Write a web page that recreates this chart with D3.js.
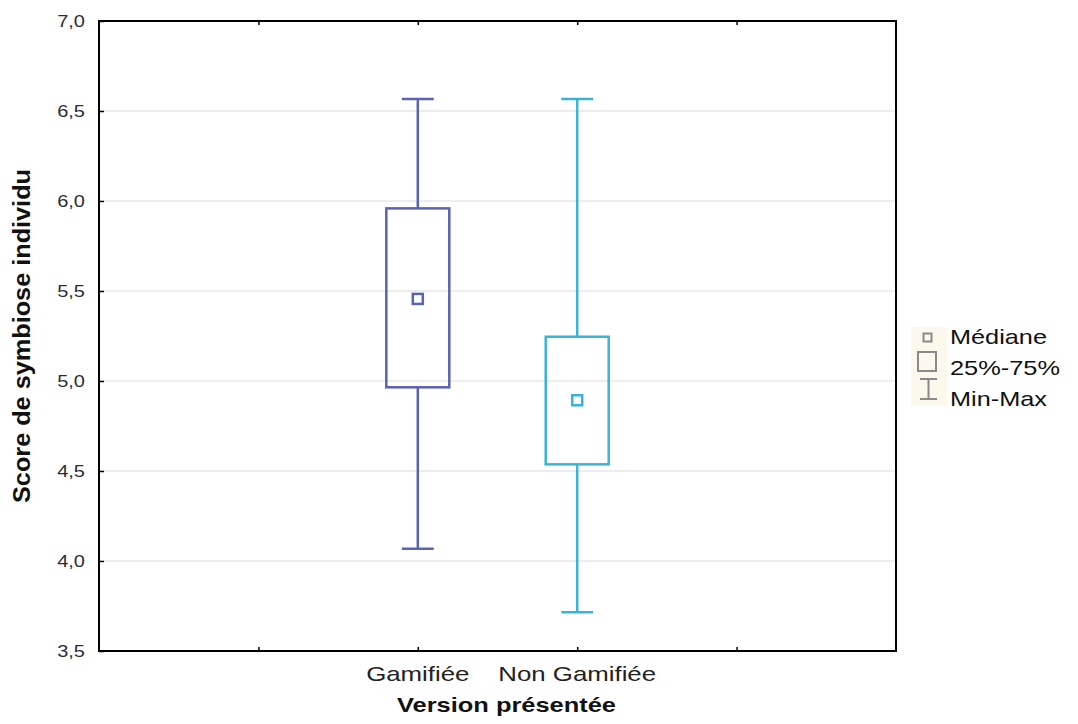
<!DOCTYPE html>
<html>
<head>
<meta charset="utf-8">
<script src="https://cdn.jsdelivr.net/npm/d3@7"></script>
<style>
html,body{margin:0;padding:0;background:#fff;}
svg{display:block;font-family:"Liberation Sans",Arial,sans-serif;}
</style>
</head>
<body>
<svg id="chart" width="1078" height="724"></svg>
<script>
// ---- data ----
const categories = ["Gamifiée", "Non Gamifiée"];
const mins    = [4.068, 3.715];
const q1s     = [4.965, 4.537];
const medians = [5.456, 4.893];
const q3s     = [5.959, 5.246];
const maxs    = [6.567, 6.567];
const yTicks  = [3.5, 4.0, 4.5, 5.0, 5.5, 6.0, 6.5, 7.0];
const legendLabels = ["Médiane", "25%-75%", "Min-Max"];
const colors = ["#5a63b0", "#3ab4d4"];

const svg = d3.select("#chart");
const L = 99, R = 896, T = 21, B = 651;

const x = d3.scaleLinear().domain([0, 5]).range([L, R]);
const y = d3.scaleLinear().domain([3.5, 7.0]).range([B, T]);
const catPos = i => i + 2;
const band = x(1) - x(0);
const boxW = band * 0.395, capW = band * 0.2;
const fmt = v => d3.format(".1f")(v).replace(".", ",");

// grid
svg.append("g").selectAll("line").data(yTicks.filter(v => v > 3.5 && v < 7.0)).join("line")
  .attr("x1", L).attr("x2", R).attr("y1", d => y(d)).attr("y2", d => y(d))
  .attr("stroke", "#dcdcdc").attr("stroke-width", 1.2);

// y axis (labels + inward ticks)
const yAxis = svg.append("g").attr("transform", `translate(${L},0)`)
  .call(d3.axisRight(y).tickValues(yTicks).tickSize(5).tickFormat(""));
yAxis.select(".domain").remove();
yAxis.selectAll(".tick line").attr("stroke", "#000").attr("stroke-width", 1.5);
svg.append("g").selectAll("text").data(yTicks).join("text")
  .attr("transform", d => `translate(85,${y(d) + 6}) scale(1.25,1)`)
  .attr("text-anchor", "end").attr("font-size", 16).attr("fill", "#2c2c34")
  .text(fmt);

// x ticks top & bottom (inward)
const xt = [1, 2, 3, 4];
const xb = svg.append("g").attr("transform", `translate(0,${B})`)
  .call(d3.axisTop(x).tickValues(xt).tickSize(4).tickFormat(""));
xb.select(".domain").remove();
xb.selectAll(".tick line").attr("stroke", "#000").attr("stroke-width", 1.5);
const xtp = svg.append("g").attr("transform", `translate(0,${T})`)
  .call(d3.axisBottom(x).tickValues(xt).tickSize(4).tickFormat(""));
xtp.select(".domain").remove();
xtp.selectAll(".tick line").attr("stroke", "#000").attr("stroke-width", 1.5);

// category labels
svg.append("g").selectAll("text").data(categories).join("text")
  .attr("transform", (d, i) => `translate(${x(catPos(i))},681) scale(1.23,1)`)
  .attr("text-anchor", "middle").attr("font-size", 21).attr("fill", "#222")
  .text(d => d);

// boxes
const g = svg.append("g").selectAll("g").data(categories).join("g");
g.each(function(d, i) {
  const s = d3.select(this), cx = x(catPos(i)), c = colors[i];
  s.append("line").attr("x1", cx).attr("x2", cx).attr("y1", y(maxs[i])).attr("y2", y(q3s[i]))
    .attr("stroke", c).attr("stroke-width", 2.5);
  s.append("line").attr("x1", cx).attr("x2", cx).attr("y1", y(q1s[i])).attr("y2", y(mins[i]))
    .attr("stroke", c).attr("stroke-width", 2.5);
  [maxs[i], mins[i]].forEach(v => s.append("line")
    .attr("x1", cx - capW / 2).attr("x2", cx + capW / 2).attr("y1", y(v)).attr("y2", y(v))
    .attr("stroke", c).attr("stroke-width", 2.5));
  s.append("rect").attr("x", cx - boxW / 2).attr("width", boxW)
    .attr("y", y(q3s[i])).attr("height", y(q1s[i]) - y(q3s[i]))
    .attr("fill", "none").attr("stroke", c).attr("stroke-width", 2.5);
  s.append("rect").attr("x", cx - 5).attr("y", y(medians[i]) - 5).attr("width", 10).attr("height", 10)
    .attr("fill", "none").attr("stroke", c).attr("stroke-width", 2.5);
});

// frame
svg.append("rect").attr("x", L).attr("y", T).attr("width", R - L).attr("height", B - T)
  .attr("fill", "none").attr("stroke", "#000").attr("stroke-width", 2);

// axis titles
svg.append("text").attr("x", (L + R) / 2 + 9).attr("y", 712).attr("text-anchor", "middle")
  .attr("font-size", 21).attr("font-weight", "bold").attr("fill", "#111")
  .attr("textLength", 219).attr("lengthAdjust", "spacingAndGlyphs")
  .text("Version présentée");
svg.append("text").attr("transform", `translate(30,${(T + B) / 2}) rotate(-90)`)
  .attr("x", 0).attr("text-anchor", "middle")
  .attr("font-size", 24).attr("font-weight", "bold").attr("fill", "#111")
  .attr("textLength", 334).attr("lengthAdjust", "spacingAndGlyphs")
  .text("Score de symbiose individu");

// legend
const lg = svg.append("g");
lg.append("rect").attr("x", 911).attr("y", 327).attr("width", 36).attr("height", 79).attr("fill", "#fdf8ec");
const gray = "#8a8a8a";
lg.append("rect").attr("x", 923.5).attr("y", 333.5).attr("width", 8).attr("height", 8)
  .attr("fill", "none").attr("stroke", gray).attr("stroke-width", 2);
lg.append("rect").attr("x", 918).attr("y", 352).attr("width", 18).attr("height", 19)
  .attr("fill", "none").attr("stroke", gray).attr("stroke-width", 2);
lg.append("line").attr("x1", 920).attr("x2", 937).attr("y1", 379).attr("y2", 379).attr("stroke", gray).attr("stroke-width", 2);
lg.append("line").attr("x1", 920).attr("x2", 937).attr("y1", 399).attr("y2", 399).attr("stroke", gray).attr("stroke-width", 2);
lg.append("line").attr("x1", 928.5).attr("x2", 928.5).attr("y1", 379).attr("y2", 399).attr("stroke", gray).attr("stroke-width", 2);
const lw = [97, 110, 97];
lg.selectAll("text.l").data(legendLabels).join("text").attr("class", "l")
  .attr("x", 950).attr("y", (d, i) => 344 + i * 31)
  .attr("font-size", 21).attr("fill", "#111")
  .attr("textLength", (d, i) => lw[i]).attr("lengthAdjust", "spacingAndGlyphs")
  .text(d => d);
</script>
</body>
</html>
